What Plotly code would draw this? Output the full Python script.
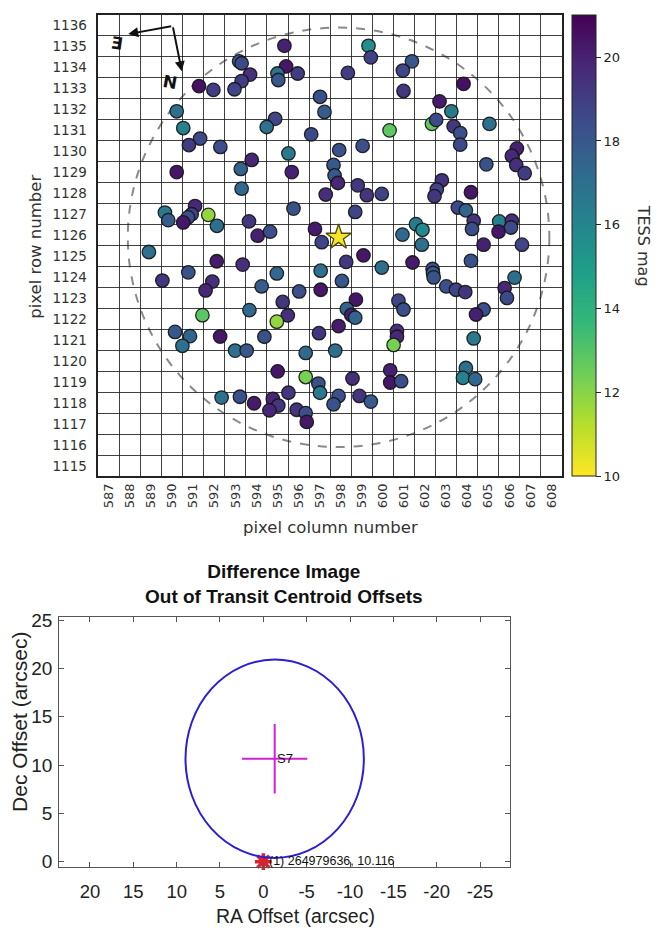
import plotly.graph_objects as go

# ---------------- data: top panel (TESS pixel field) ----------------
star_col = [
    595.33, 593.18, 593.30, 595.41, 595.00, 595.04, 595.96, 593.70, 593.30, 592.96,
    591.28, 591.96, 590.22, 590.53, 591.33, 590.80, 592.29, 594.89, 594.49, 597.02,
    597.23, 596.60, 595.52, 593.78, 593.26, 595.68, 590.22, 593.30, 595.76, 597.29,
    589.66, 589.82, 591.09, 590.93, 590.75, 590.53, 591.72, 592.13, 593.65, 594.06,
    594.65, 596.78, 597.10,
    599.32, 599.43, 598.34, 601.38, 600.95, 600.98, 603.83, 602.69, 603.25, 602.33,
    602.53, 600.32, 603.36, 603.67, 603.67, 605.06, 599.04, 597.93, 606.36, 606.12,
    606.33, 606.73, 604.91, 597.66, 597.71, 597.87, 598.81, 599.24, 599.95, 602.80,
    602.56, 602.45, 604.18, 598.69, 603.56, 603.94, 604.31, 604.23, 605.52, 606.12,
    606.08, 605.49, 601.57, 601.88, 600.93,
    588.90, 589.54, 590.77, 592.12, 593.35, 591.91, 591.59, 591.44, 590.14, 590.85,
    590.49, 592.28, 592.99, 593.54, 593.67, 594.25, 594.38, 594.97, 595.25, 595.49,
    594.97, 596.03, 597.05, 597.05, 596.97, 596.34, 595.01, 596.34, 596.94, 597.02,
    595.52, 592.35, 593.22, 593.89, 594.78, 595.04, 594.62, 595.91, 596.34, 596.39,
    601.85, 604.78, 606.60, 599.08, 598.26, 599.95, 601.41, 602.36, 602.38, 602.41,
    604.18, 606.25, 605.78, 605.89, 603.01, 603.47, 603.91, 598.06, 598.72, 598.29,
    598.50, 598.69, 597.90, 600.74, 600.98, 600.67, 600.67, 600.51, 597.74, 604.78,
    604.42, 604.31, 600.35, 600.35, 600.87, 598.56, 603.94, 603.80, 604.38, 597.90,
    597.66, 598.89, 599.43,
]
star_row = [
    1135.03, 1134.29, 1134.20, 1134.05, 1133.71, 1133.40, 1133.71, 1133.66, 1133.35, 1132.96,
    1133.11, 1132.93, 1131.91, 1131.11, 1130.61, 1130.30, 1130.21, 1131.55, 1131.16, 1132.60,
    1131.88, 1130.81, 1129.90, 1129.59, 1129.16, 1129.01, 1129.01, 1128.22, 1127.27, 1127.94,
    1127.08, 1126.72, 1127.39, 1127.00, 1126.85, 1126.61, 1126.97, 1126.45, 1126.66, 1125.98,
    1126.17, 1126.30, 1125.67,
    1135.03, 1134.48, 1133.74, 1134.29, 1133.85, 1132.88, 1133.22, 1132.38, 1131.91, 1131.31,
    1131.50, 1131.00, 1131.19, 1130.87, 1130.32, 1131.31, 1130.26, 1130.06, 1130.14, 1129.78,
    1129.35, 1128.96, 1129.38, 1129.35, 1128.85, 1128.49, 1128.38, 1127.91, 1127.97, 1128.62,
    1128.18, 1127.86, 1128.05, 1127.11, 1127.32, 1127.19, 1126.69, 1126.30, 1126.66, 1126.69,
    1126.37, 1126.17, 1126.53, 1126.26, 1126.03,
    1125.20, 1123.84, 1124.23, 1124.76, 1124.60, 1123.79, 1123.37, 1122.19, 1121.39, 1121.19,
    1120.73, 1121.17, 1120.50, 1120.50, 1122.43, 1123.56, 1121.16, 1124.18, 1122.82, 1122.18,
    1121.88, 1123.32, 1124.31, 1123.40, 1121.33, 1120.39, 1119.51, 1119.24, 1118.93, 1118.49,
    1118.49, 1118.26, 1118.30, 1117.99, 1118.20, 1117.88, 1117.65, 1117.68, 1117.52, 1117.10,
    1125.55, 1125.55, 1125.55, 1125.04, 1124.73, 1124.46, 1124.70, 1124.39, 1124.20, 1123.99,
    1124.78, 1123.98, 1123.48, 1123.01, 1123.56, 1123.40, 1123.29, 1123.82, 1122.93, 1122.49,
    1122.20, 1122.07, 1121.67, 1122.88, 1122.46, 1121.44, 1121.16, 1120.77, 1120.50, 1122.46,
    1122.22, 1121.08, 1119.56, 1118.98, 1119.04, 1119.17, 1119.67, 1119.20, 1119.14, 1118.34,
    1117.94, 1118.34, 1118.07,
]
star_tmag = [
    20.0, 17.5, 18.5, 20.3, 16.9, 18.0, 19.0, 19.5, 19.0, 18.7,
    20.5, 19.0, 17.0, 16.2, 18.5, 19.0, 18.3, 18.7, 16.9, 18.3,
    17.8, 18.5, 16.6, 19.8, 17.5, 20.0, 20.3, 17.3, 18.2, 19.5,
    16.6, 17.8, 19.8, 18.8, 18.3, 20.3, 11.8, 17.0, 19.3, 20.0,
    18.3, 20.2, 18.7,
    15.6, 18.8, 19.0, 18.0, 18.7, 19.2, 20.5, 20.2, 16.5, 12.7,
    18.5, 12.8, 19.2, 18.3, 18.5, 17.0, 18.3, 18.2, 20.0, 19.7,
    19.5, 19.0, 18.2, 18.0, 18.0, 19.8, 19.2, 19.3, 18.8, 19.3,
    18.7, 19.3, 20.3, 18.7, 18.5, 17.5, 19.3, 18.3, 16.2, 19.5,
    18.5, 20.3, 16.5, 15.8, 17.3,
    16.9, 19.3, 18.2, 20.2, 19.5, 19.5, 19.8, 12.9, 18.0, 17.5,
    16.9, 20.3, 16.9, 18.0, 17.3, 17.8, 18.2, 17.3, 19.3, 19.5,
    11.8, 18.3, 16.9, 20.3, 19.3, 17.3, 20.3, 12.3, 18.3, 16.6,
    19.3, 16.9, 18.2, 20.2, 19.8, 19.3, 19.8, 19.3, 18.3, 20.3,
    16.9, 20.0, 18.7, 20.3, 19.2, 17.0, 20.2, 18.0, 17.8, 18.2,
    18.2, 17.0, 19.8, 18.5, 18.3, 18.7, 19.3, 18.0, 20.3, 17.5,
    20.0, 17.5, 20.2, 18.7, 18.3, 19.5, 19.8, 12.3, 17.0, 18.3,
    20.0, 16.5, 20.0, 20.3, 18.3, 19.5, 16.9, 16.2, 17.3, 18.3,
    18.2, 19.3, 17.8,
]
target_col = [597.9]
target_row = [1125.9]
target_tmag = [10.1]
aperture_radius = 10  # pixels
col_ticks = list(range(587, 609))
row_ticks = list(range(1115, 1137))
cbar_ticks = [10, 12, 14, 16, 18, 20]

# compass (pixel coordinates)
compass_corner = (590.03, 1135.98)
compass_e_tip = (587.92, 1135.59)
compass_n_tip = (590.46, 1133.82)
compass_e_label = (587.37, 1135.15)
compass_n_label = (589.90, 1133.30)

# ---------------- data: bottom panel (centroid offsets) ----------------
centroid_ra = [-1.31]
centroid_dec = [10.65]
centroid_ra_err = [3.65]
centroid_dec_err = [3.49]
centroid_label = ["S7"]
circle_radius_ra = 10.29
circle_radius_dec = 10.26
target_ra = [0.0]
target_dec = [0.0]
target_label = ["(1) 264979636, 10.116"]
ra_ticks = [20, 15, 10, 5, 0, -5, -10, -15, -20, -25]
ra_ticktext = ["20", "15", "10", "5", "0", "-5", "-10", "-15", "-20", "-25"]
dec_ticks = [0, 5, 10, 15, 20, 25]

# page body has an 8px margin, so the figure is drawn 8px smaller and offset
OFF = 8
W, H = 665 - OFF, 937 - OFF
def px(x):
    return (x - OFF) / W
def py(y):
    return 1 - (y - OFF) / H

TOPF = "DejaVu Sans"
BOTF = "Liberation Sans, Arial"

fig = go.Figure()

# field stars
fig.add_trace(go.Scatter(
    x=star_col, y=star_row, mode="markers", xaxis="x", yaxis="y",
    marker=dict(
        size=13.5, color=star_tmag, colorscale="Viridis", reversescale=True,
        cmin=10, cmax=21, line=dict(color="rgba(20,20,20,0.9)", width=1.3),
        colorbar=dict(
            x=px(572), xanchor="left", xref="paper", xpad=0, ypad=0,
            y=py(242), yanchor="middle", len=468 / H, lenmode="fraction",
            thickness=24, outlinecolor="#222", outlinewidth=1,
            tickvals=cbar_ticks, ticks="outside", ticklen=5, tickcolor="#222",
            tickfont=dict(family=TOPF, size=13, color="#222"),
        ),
    ),
    showlegend=False, hoverinfo="skip",
))
# target star
fig.add_trace(go.Scatter(
    x=target_col, y=target_row, mode="markers", xaxis="x", yaxis="y",
    marker=dict(symbol="star", size=19, color=target_tmag, colorscale="Viridis",
                reversescale=True, cmin=10, cmax=21,
                line=dict(color="#4a4a10", width=1.3)),
    showlegend=False, hoverinfo="skip",
))

# bottom: target
fig.add_trace(go.Scatter(
    x=target_ra, y=target_dec, mode="markers", xaxis="x2", yaxis="y2",
    marker=dict(symbol="asterisk-open", size=14, color="#e0202a",
                line=dict(color="#e0202a", width=3.5)),
    showlegend=False, hoverinfo="skip", cliponaxis=False,
))
fig.add_trace(go.Scatter(
    x=target_ra, y=target_dec, mode="markers", xaxis="x2", yaxis="y2",
    marker=dict(symbol="circle", size=7, color="#e0202a"),
    showlegend=False, hoverinfo="skip", cliponaxis=False,
))
# bottom: centroid cross
fig.add_trace(go.Scatter(
    x=centroid_ra, y=centroid_dec, mode="markers", xaxis="x2", yaxis="y2",
    marker=dict(size=1, color="#d020d8"),
    error_x=dict(type="data", array=centroid_ra_err, color="#d020d8", thickness=2, width=1),
    error_y=dict(type="data", array=centroid_dec_err, color="#d020d8", thickness=2, width=1),
    showlegend=False, hoverinfo="skip",
))

shapes = []
shapes.append(dict(
    type="circle", xref="x", yref="y",
    x0=target_col[0] - aperture_radius, x1=target_col[0] + aperture_radius,
    y0=target_row[0] - aperture_radius, y1=target_row[0] + aperture_radius,
    line=dict(color="#8a8a8a", width=2, dash="dash"), layer="below",
))
shapes.append(dict(
    type="circle", xref="x2", yref="y2",
    x0=centroid_ra[0] - circle_radius_ra, x1=centroid_ra[0] + circle_radius_ra,
    y0=centroid_dec[0] - circle_radius_dec, y1=centroid_dec[0] + circle_radius_dec,
    line=dict(color="#2a1fd8", width=2),
))

def note(**kw):
    kw.setdefault("showarrow", False)
    kw.setdefault("xanchor", "center")
    kw.setdefault("yanchor", "middle")
    return kw

annotations = []
for tip in (compass_e_tip, compass_n_tip):
    annotations.append(dict(
        x=tip[0], y=tip[1], ax=compass_corner[0], ay=compass_corner[1],
        xref="x", yref="y", axref="x", ayref="y", text="",
        showarrow=True, arrowhead=2, arrowsize=1, arrowwidth=2, arrowcolor="#111",
    ))
annotations.append(note(x=compass_e_label[0], y=compass_e_label[1], xref="x", yref="y",
                        text="<b>Ǝ</b>", textangle=8,
                        font=dict(family=TOPF, size=17, color="#111")))
annotations.append(note(x=compass_n_label[0], y=compass_n_label[1], xref="x", yref="y",
                        text="<b>N</b>", textangle=10,
                        font=dict(family=TOPF, size=17, color="#111")))
annotations.append(note(x=px(330), y=py(528), xref="paper", yref="paper", text="pixel column number",
                        font=dict(family=TOPF, size=16.5, color="#333")))
annotations.append(note(x=px(36), y=py(243), xref="paper", yref="paper", text="pixel row number",
                        textangle=-90, font=dict(family=TOPF, size=16.5, color="#333")))
annotations.append(note(x=px(643), y=py(242), xref="paper", yref="paper", text="TESS mag",
                        textangle=90, font=dict(family=TOPF, size=16, color="#333")))
annotations.append(note(x=centroid_ra[0], y=centroid_dec[0], xref="x2", yref="y2", text=centroid_label[0],
                        xanchor="left", xshift=0,
                        font=dict(family=BOTF, size=13, color="#111")))
annotations.append(note(x=target_ra[0], y=target_dec[0], xref="x2", yref="y2", text=target_label[0],
                        xanchor="left", xshift=4, yshift=1,
                        font=dict(family=BOTF, size=12.5, color="#111")))
annotations.append(note(x=px(284), y=py(585), xref="paper", yref="paper",
                        text="<b>Difference Image</b><br><b>Out of Transit Centroid Offsets</b>",
                        font=dict(family=BOTF, size=19, color="#111")))
annotations.append(note(x=px(295), y=py(922), xref="paper", yref="paper", text="RA Offset (arcsec)",
                        font=dict(family=BOTF, size=19.5, color="#222")))
annotations.append(note(x=px(20), y=py(725), xref="paper", yref="paper", text="Dec Offset (arcsec)",
                        textangle=-90, font=dict(family=BOTF, size=21, color="#222")))

fig.update_layout(
    width=W, height=H, margin=dict(l=0, r=0, t=0, b=0),
    paper_bgcolor="white", plot_bgcolor="white",
    shapes=shapes, annotations=annotations,
    xaxis=dict(
        domain=[px(98.3), px(562)], range=[586.5, 608.5], anchor="y",
        tickvals=col_ticks, tickangle=-90, showgrid=False, zeroline=False,
        tickfont=dict(family=TOPF, size=13, color="#333"), ticks="",
        showline=True, linecolor="#222", linewidth=1.5, mirror=True,
        minor=dict(tick0=586.5, dtick=1, showgrid=True, gridcolor="rgba(30,30,30,0.85)", gridwidth=1.2),
    ),
    yaxis=dict(
        domain=[py(476), py(8)], range=[1114.5, 1136.5], anchor="x",
        tickvals=row_ticks, showgrid=False, zeroline=False,
        tickfont=dict(family=TOPF, size=13.5, color="#333"), ticks="", ticklabelstandoff=7,
        showline=True, linecolor="#222", linewidth=1.5, mirror=True,
        minor=dict(tick0=1114.5, dtick=1, showgrid=True, gridcolor="rgba(30,30,30,0.85)", gridwidth=1.2),
    ),
    xaxis2=dict(
        domain=[px(59.3), px(510)], range=[23.54, -28.46], anchor="y2",
        tickvals=ra_ticks, ticktext=ra_ticktext, showgrid=False, zeroline=False,
        ticks="inside", ticklen=5, tickcolor="#555", mirror="ticks",
        showline=True, linecolor="#555", linewidth=1.2, ticklabelstandoff=8,
        tickfont=dict(family=BOTF, size=18.5, color="#222"),
    ),
    yaxis2=dict(
        domain=[py(871.7), py(618.3)], range=[-0.51, 25.34], anchor="x2",
        tickvals=dec_ticks, showgrid=False, zeroline=False,
        ticks="inside", ticklen=5, tickcolor="#555", mirror="ticks",
        showline=True, linecolor="#555", linewidth=1.2, ticklabelstandoff=2,
        tickfont=dict(family=BOTF, size=19, color="#222"),
    ),
)

fig.write_html("out.html")
